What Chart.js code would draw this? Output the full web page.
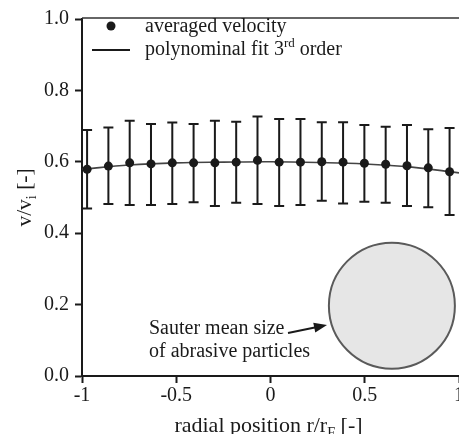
<!DOCTYPE html>
<html>
<head>
<meta charset="utf-8">
<script src="https://cdn.jsdelivr.net/npm/chart.js@4/dist/chart.umd.min.js"></script>
<style>
  html, body { margin: 0; padding: 0; background: #fff; }
</style>
</head>
<body>
<canvas id="myCanvas" width="459" height="434"></canvas>
<script>
// radial measuring positions r/rF
var xPos = [-0.973, -0.860, -0.747, -0.634, -0.521, -0.408, -0.295, -0.182, -0.069,
            0.046, 0.159, 0.272, 0.385, 0.498, 0.611, 0.724, 0.837, 0.950]
// averaged velocity v/vi
var velocity = [0.579, 0.588, 0.597, 0.594, 0.597, 0.597, 0.597, 0.599, 0.604,
                0.599, 0.599, 0.600, 0.599, 0.596, 0.593, 0.589, 0.583, 0.572]
var errHigh = [0.689, 0.696, 0.715, 0.706, 0.710, 0.706, 0.715, 0.712, 0.727,
               0.720, 0.720, 0.711, 0.711, 0.703, 0.698, 0.703, 0.691, 0.695]
var errLow = [0.469, 0.482, 0.479, 0.479, 0.482, 0.487, 0.476, 0.485, 0.482,
              0.476, 0.479, 0.491, 0.483, 0.488, 0.485, 0.476, 0.473, 0.451]
// polynomial fit
var fitX = [-1, -0.75, -0.5, -0.25, 0, 0.25, 0.5, 0.75, 1]
var fitY = [0.579, 0.591, 0.597, 0.599, 0.600, 0.598, 0.594, 0.585, 0.569]
// ticks
var xTicks = [-1, -0.5, 0, 0.5, 1]
var yTicks = [0, 0.2, 0.4, 0.6, 0.8, 1.0]
// particle sketch anchor (data coords)
var particle = [{x: 0.644, y: 0.197}]

var serif = "'Liberation Serif', 'Times New Roman', serif"
var ink = '#1a1a1a'

// draws text pieces, some raised or lowered
function richText(ctx, parts, x, y, size) {
  parts.forEach(function (p) {
    var s = p.sub || p.sup ? size * 0.65 : size
    var dy = p.sub ? size * 0.22 : (p.sup ? -size * 0.38 : 0)
    ctx.font = s + 'px ' + serif
    ctx.fillText(p.t, x, y + dy)
    x += ctx.measureText(p.t).width
  })
  return x
}
function richWidth(ctx, parts, size) {
  var w = 0
  parts.forEach(function (p) {
    var s = p.sub || p.sup ? size * 0.65 : size
    ctx.font = s + 'px ' + serif
    w += ctx.measureText(p.t).width
  })
  return w
}

function noPad(s) {
  s.paddingLeft = 0; s.paddingRight = 0; s.paddingTop = 0; s.paddingBottom = 0
}

var extras = {
  id: 'extras',
  beforeDatasetsDraw: function (chart) {
    var ctx = chart.ctx
    var xs = chart.scales.x, ys = chart.scales.y
    ctx.save()
    ctx.strokeStyle = ink
    ctx.lineWidth = 2
    for (var i = 0; i < xPos.length; i++) {
      var px = xs.getPixelForValue(xPos[i])
      var top = ys.getPixelForValue(errHigh[i])
      var bot = ys.getPixelForValue(errLow[i])
      ctx.beginPath()
      ctx.moveTo(px, top); ctx.lineTo(px, bot)
      ctx.moveTo(px - 5, top); ctx.lineTo(px + 5, top)
      ctx.moveTo(px - 5, bot); ctx.lineTo(px + 5, bot)
      ctx.stroke()
    }
    ctx.restore()
  },
  afterDraw: function (chart) {
    var ctx = chart.ctx
    var a = chart.chartArea
    ctx.save()
    // top frame line
    ctx.strokeStyle = '#333'
    ctx.lineWidth = 1.5
    ctx.beginPath()
    ctx.moveTo(a.left, a.top - 1); ctx.lineTo(a.right, a.top - 1)
    ctx.stroke()

    ctx.fillStyle = ink
    ctx.textBaseline = 'alphabetic'
    // legend
    ctx.beginPath()
    ctx.arc(111, 26, 4.5, 0, Math.PI * 2)
    ctx.fill()
    ctx.strokeStyle = ink
    ctx.lineWidth = 1.8
    ctx.beginPath()
    ctx.moveTo(92, 50); ctx.lineTo(130, 50)
    ctx.stroke()
    richText(ctx, [{t: 'averaged velocity'}], 145, 32, 20)
    richText(ctx, [{t: 'polynominal fit 3'}, {t: 'rd', sup: true}, {t: ' order'}], 145, 55, 20)

    // annotation
    richText(ctx, [{t: 'Sauter mean size'}], 149, 334, 20)
    richText(ctx, [{t: 'of abrasive particles'}], 149, 357, 20)
    var x0 = 288, y0 = 333, x1 = 327, y1 = 325
    var ang = Math.atan2(y1 - y0, x1 - x0)
    ctx.lineWidth = 2
    ctx.beginPath()
    ctx.moveTo(x0, y0); ctx.lineTo(x1 - 10 * Math.cos(ang), y1 - 10 * Math.sin(ang))
    ctx.stroke()
    ctx.beginPath()
    ctx.moveTo(x1, y1)
    ctx.lineTo(x1 - 13 * Math.cos(ang) + 5 * Math.sin(ang), y1 - 13 * Math.sin(ang) - 5 * Math.cos(ang))
    ctx.lineTo(x1 - 13 * Math.cos(ang) - 5 * Math.sin(ang), y1 - 13 * Math.sin(ang) + 5 * Math.cos(ang))
    ctx.closePath()
    ctx.fill()

    // axis titles
    var xt = [{t: 'radial position r/r'}, {t: 'F', sub: true}, {t: ' [-]'}]
    var w = richWidth(ctx, xt, 22)
    richText(ctx, xt, 268.5 - w / 2, 432, 22)
    ctx.translate(31, (a.top + a.bottom) / 2)
    ctx.rotate(-Math.PI / 2)
    var yt = [{t: 'v/v'}, {t: 'i', sub: true}, {t: ' [-]'}]
    w = richWidth(ctx, yt, 21.5)
    richText(ctx, yt, -w / 2, 0, 21.5)
    ctx.restore()
  }
}

var ctx = document.getElementById('myCanvas')
var myChart = new Chart(ctx, {
  type: 'scatter',
  data: {
    datasets: [
      {
        label: 'averaged velocity',
        data: xPos.map(function (x, i) { return {x: x, y: velocity[i]} }),
        pointRadius: 4.5,
        pointBackgroundColor: ink,
        pointBorderWidth: 0,
        order: 1
      },
      {
        label: 'polynominal fit 3rd order',
        data: fitX.map(function (x, i) { return {x: x, y: fitY[i]} }),
        showLine: true,
        borderColor: '#444',
        borderWidth: 1.6,
        pointRadius: 0,
        tension: 0.4,
        order: 2
      },
      {
        label: 'particle',
        data: particle,
        pointRadius: 63,
        pointBackgroundColor: '#e6e6e6',
        pointBorderColor: '#5a5a5a',
        pointBorderWidth: 2,
        order: 3
      }
    ]
  },
  options: {
    responsive: false,
    animation: false,
    layout: { autoPadding: false, padding: { top: 19, right: 0, left: 0, bottom: 0 } },
    plugins: { legend: { display: false }, tooltip: { enabled: false } },
    scales: {
      x: {
        type: 'linear',
        min: -1, max: 1,
        afterBuildTicks: function (s) { s.ticks = xTicks.map(function (v) { return {value: v} }) },
        afterFit: function (s) { s.height = 58; noPad(s) },
        ticks: {
          color: ink, padding: 1, maxRotation: 0, autoSkip: false,
          font: { family: serif, size: 20 },
          callback: function (v) { return String(v) }
        },
        grid: { drawOnChartArea: false, drawTicks: true, tickLength: 7, tickWidth: 2, tickColor: ink },
        border: { display: true, color: ink, width: 2 }
      },
      y: {
        min: 0, max: 1,
        afterBuildTicks: function (s) { s.ticks = yTicks.map(function (v) { return {value: v} }) },
        afterFit: function (s) { s.width = 82; noPad(s) },
        ticks: {
          color: ink, padding: 6, autoSkip: false,
          font: { family: serif, size: 20 },
          callback: function (v) { return Number(v).toFixed(1) }
        },
        grid: { drawOnChartArea: false, drawTicks: true, tickLength: 7, tickWidth: 2, tickColor: ink },
        border: { display: true, color: ink, width: 2 }
      }
    }
  },
  plugins: [extras]
})
</script>
</body>
</html>
